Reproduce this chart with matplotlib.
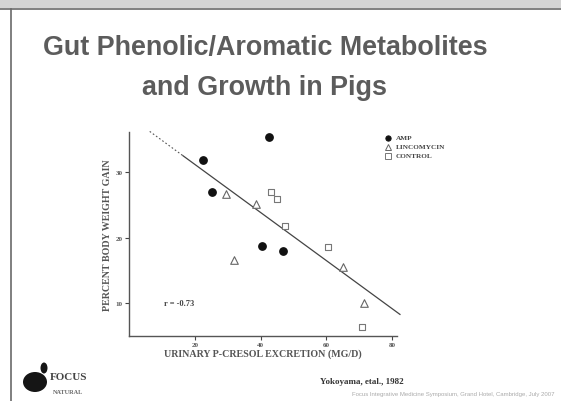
import matplotlib
matplotlib.use("Agg")
import matplotlib.pyplot as plt
from matplotlib.patches import Rectangle, Ellipse
from matplotlib.lines import Line2D
import numpy as np

# ---- data ----
amp_x = [22.5, 25.1, 42.5, 40.5, 46.7]
amp_y = [31.8, 26.9, 35.3, 18.7, 18.0]
lin_x = [29.4, 31.9, 38.6, 65.0, 71.5]
lin_y = [26.6, 16.6, 25.1, 15.5, 10.0]
ctl_x = [43.1, 44.9, 47.4, 60.6, 70.8]
ctl_y = [26.9, 25.9, 21.8, 18.6, 6.3]
fit_intercept = 38.5
fit_slope = -0.3666
fit_x_start = 6.3
fit_x_dash_end = 16.4
fit_x_end = 82.4
x_ticks = [20, 40, 60, 80]
y_ticks = [10, 20, 30]
series_labels = ["AMP", "LINCOMYCIN", "CONTROL"]

W, H = 561, 402
fig = plt.figure(figsize=(W / 100, H / 100), dpi=100)
fig.patch.set_facecolor("white")

# slide frame
fig.patches.append(Rectangle((0, 1 - 9 / H), 1, 9 / H, transform=fig.transFigure,
                             facecolor="#d4d4d4", edgecolor="none", zorder=0))
fig.add_artist(Line2D([0, 1], [1 - 9.5 / H, 1 - 9.5 / H], transform=fig.transFigure,
                      color="#6a6a6a", lw=1.2))
fig.add_artist(Line2D([10.5 / W, 10.5 / W], [0, 1 - 9.5 / H], transform=fig.transFigure,
                      color="#6a6a6a", lw=1.2))

# title
fig.text(265 / W, 1 - 48 / H, "Gut Phenolic/Aromatic Metabolites", ha="center", va="center",
         fontsize=19.4, fontweight="bold", color="#5c5c5c", family="Liberation Sans")
fig.text(265 / W, 1 - 88 / H, "and Growth in Pigs", ha="center", va="center",
         fontsize=19.4, fontweight="bold", color="#5c5c5c", family="Liberation Sans")

# axes
ax = fig.add_axes([129 / W, 1 - 337 / H, (397 - 129) / W, (337 - 133) / H])
ax.set_xlim(0, 81.5)
ax.set_ylim(5.0, 36.1)
for s in ["top", "right"]:
    ax.spines[s].set_visible(False)
for s in ["left", "bottom"]:
    ax.spines[s].set_color("#555555")
    ax.spines[s].set_linewidth(1.0)
ax.set_xticks(x_ticks)
ax.set_yticks(y_ticks)
ax.tick_params(axis="both", length=3, width=0.8, color="#444444", labelsize=5,
               labelcolor="#555555", pad=1.5)
for lab in ax.get_xticklabels() + ax.get_yticklabels():
    lab.set_family("Liberation Serif")
    lab.set_fontweight("bold")

ax.scatter(amp_x, amp_y, marker="o", s=28, facecolor="#111111", edgecolor="#111111",
           zorder=3, clip_on=False)
ax.scatter(lin_x, lin_y, marker="^", s=30, facecolor="white", edgecolor="#666666",
           linewidth=0.8, zorder=3, clip_on=False)
ax.scatter(ctl_x, ctl_y, marker="s", s=22, facecolor="white", edgecolor="#777777",
           linewidth=0.8, zorder=3, clip_on=False)

# regression line
xd = np.array([fit_x_start, fit_x_dash_end])
xs = np.array([fit_x_dash_end, fit_x_end])
ax.plot(xd, fit_intercept + fit_slope * xd, color="#555555", lw=0.8,
        linestyle=(0, (1.5, 2)), clip_on=False)
ax.plot(xs, fit_intercept + fit_slope * xs, color="#444444", lw=0.9, clip_on=False)

ax.text(10.5, 10.0, "r = -0.73", fontsize=6, color="#444444", family="Liberation Serif",
        fontweight="bold", va="center")

ax.set_xlabel("URINARY P-CRESOL EXCRETION (MG/D)", fontsize=7.2, family="Liberation Serif",
              fontweight="bold", color="#555555", labelpad=1)
ax.set_ylabel("PERCENT BODY WEIGHT GAIN", fontsize=7.2, family="Liberation Serif",
              fontweight="bold", color="#555555", labelpad=3)

# legend
leg_x = 388 / W
leg_ys = [139, 148, 157]
markers = [("o", "#111111", "#111111"), ("^", "white", "#666666"), ("s", "white", "#777777")]
for (m, fc, ec), yy, lab in zip(markers, leg_ys, series_labels):
    fig.add_artist(Line2D([leg_x], [1 - yy / H], transform=fig.transFigure, marker=m,
                          markersize=3.8, markerfacecolor=fc, markeredgecolor=ec,
                          markeredgewidth=0.7, linestyle="none"))
    fig.text(leg_x + 8 / W, 1 - yy / H, lab, fontsize=5.2, family="Liberation Serif",
             fontweight="bold", color="#444444", va="center")

# logo (simplified silhouette + text)
fig.patches.append(Ellipse((35 / W, 1 - 383 / H), 24 / W, 20 / H, transform=fig.transFigure,
                           facecolor="#151515", edgecolor="none"))
fig.patches.append(Ellipse((44 / W, 1 - 369 / H), 7 / W, 11 / H, transform=fig.transFigure,
                           facecolor="#151515", edgecolor="none"))
fig.text(50 / W, 1 - 378 / H, "FOCUS", fontsize=8, family="Liberation Serif",
         fontweight="bold", color="#444444", va="center")
fig.text(53 / W, 1 - 393 / H, "NATURAL", fontsize=4.5, family="Liberation Serif",
         fontweight="bold", color="#666666", va="center")

# citation
fig.text(362 / W, 1 - 382 / H, "Yokoyama, etal., 1982", fontsize=6.5,
         family="Liberation Serif", fontweight="bold", color="#333333", ha="center",
         va="center")
fig.text(555 / W, 1 - 395 / H,
         "Focus Integrative Medicine Symposium, Grand Hotel, Cambridge, July 2007",
         fontsize=4.3, family="Liberation Sans", color="#aaaaaa", ha="right", va="center")

fig.savefig("out.png", dpi=100)
